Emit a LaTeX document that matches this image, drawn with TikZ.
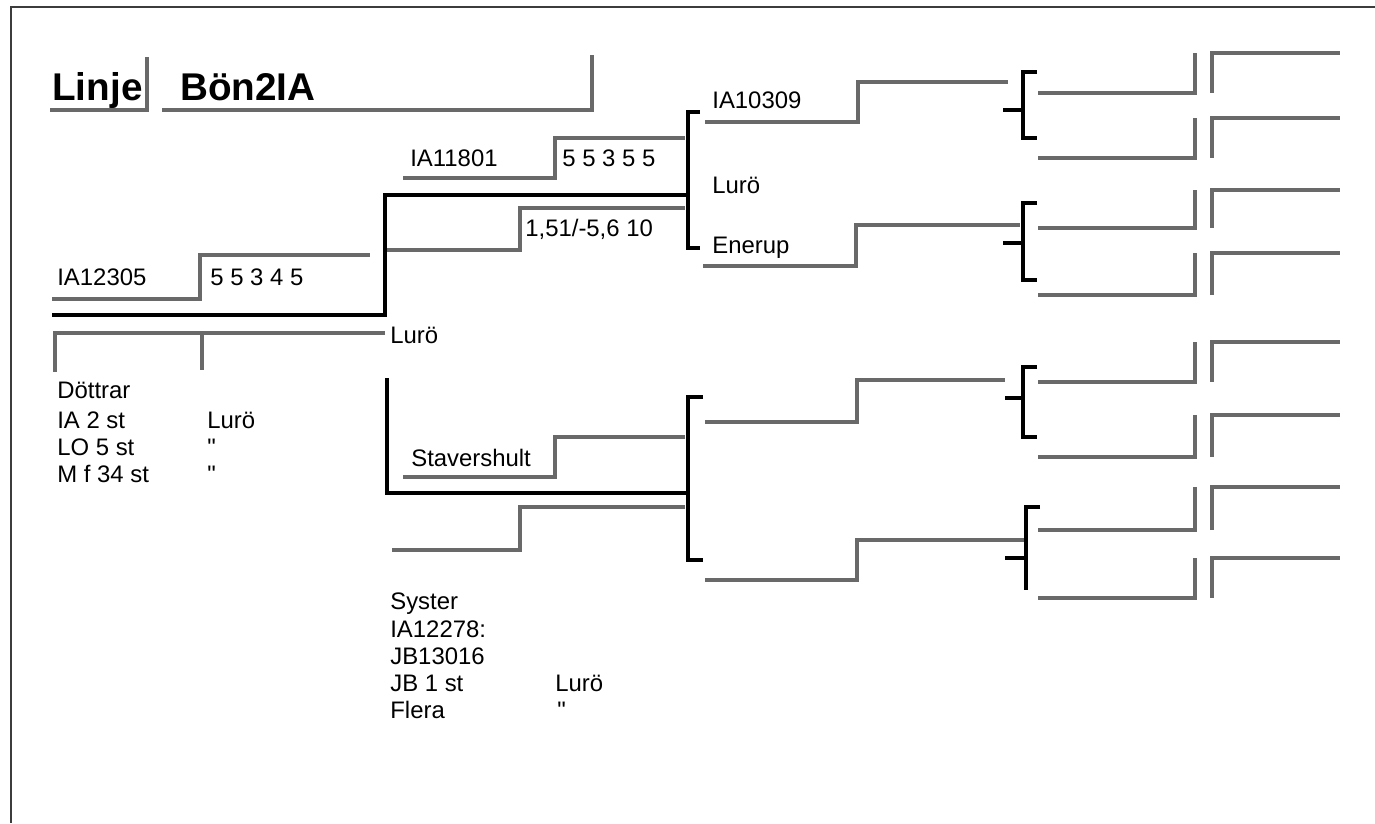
\documentclass[tikz,border=0pt]{standalone}
\usepackage{fontspec}
\setmainfont{Liberation Sans}
\usepackage{tikz}
\usetikzlibrary{positioning}
\definecolor{linegray}{RGB}{105,105,105}
\definecolor{framegray}{RGB}{60,60,60}
% step line: x start, x of step, x end, lower y, upper y
\newcommand{\stepline}[5]{\draw[gline] (#1,#4) -- (#2,#4) -- (#2,#5) -- (#3,#5);}

\begin{document}
\begin{tikzpicture}[x=0.02cm, y=-0.02cm,
  gline/.style={draw=linegray, line width=1.8pt},
  bline/.style={draw=black, line width=2.8pt},
  brk/.style={draw=black, line width=2.2pt},
  lbl/.style={anchor=base west, inner sep=0pt, font=\fontsize{13.6}{16}\selectfont},
  ttl/.style={anchor=base west, inner sep=0pt, font=\fontsize{22}{26}\selectfont\bfseries}
]
\useasboundingbox (0,0) rectangle (1375,823);
\draw[framegray, line width=1.1pt] (1375,7) -- (11,7) -- (11,823);

% title
\node[ttl] (linje) at (52,100) {Linje};
\node[ttl] (line) at (180,100) {Bön2IA};
\draw[gline] (50,110) -- (147,110) -- (147,57);
\draw[gline] (162,110) -- (592,110) -- (592,55);

% proband
\node[lbl] (ia12305) at (57,285) {IA12305};
\node[lbl] (idx0) at (210,285) {5 5 3 4 5};
\node[lbl] (luro0) at (390,343) {Lurö};
\stepline{52}{200}{370}{299}{255}
\draw[bline] (52,315) -- (385,315) -- (385,195) -- (688,195);
\draw[gline] (55,372) -- (55,333) -- (385,333);
\draw[gline] (202,333) -- (202,370);
\draw[bline] (387,378) -- (387,493) -- (688,493);

% offspring
\node[lbl] (dottrar) at (57,398) {Döttrar};
\node[lbl] (ia2) at (57,428) {IA 2 st};
\node[lbl] (lo5) at (57,455) {LO 5 st};
\node[lbl] (mf34) at (57,482) {M f 34 st};
\node[lbl] (luro1) at (207,428) {Lurö};
\node[lbl] (ditto1) at (207,455) {\textquotedbl};
\node[lbl] (ditto2) at (207,482) {\textquotedbl};

% sister
\node[lbl] (syster) at (390,609) {Syster};
\node[lbl] (ia12278) at (390,637) {IA12278:};
\node[lbl] (jb13016) at (390,664) {JB13016};
\node[lbl] (jb1) at (390,691) {JB 1 st};
\node[lbl] (flera) at (390,718) {Flera};
\node[lbl] (luro2) at (555,691) {Lurö};
\node[lbl] (ditto3) at (557,718) {\textquotedbl};

% parents
\node[lbl] (ia11801) at (410,166) {IA11801};
\node[lbl] (idx1) at (562,166) {5 5 3 5 5};
\node[lbl] (idx2) at (525,236) {1,51/-5,6 10};
\node[lbl] (stavershult) at (411,466) {Stavershult};
\stepline{403}{555}{685}{178}{138}
\stepline{387}{520}{685}{250}{208}
\stepline{403}{555}{685}{477}{437}
\stepline{392}{520}{685}{550}{507}
\draw[brk] (700,112) -- (688,112) -- (688,248) -- (700,248);
\draw[brk] (703,397) -- (688,397) -- (688,560) -- (703,560);

% grandparents
\node[lbl] (ia10309) at (712,108) {IA10309};
\node[lbl] (luro3) at (712,193) {Lurö};
\node[lbl] (enerup) at (712,253) {Enerup};
\stepline{705}{858}{1008}{122}{82}
\stepline{703}{856}{1020}{266}{225}
\stepline{705}{857}{1005}{422}{380}
\stepline{705}{857}{1026}{580}{540}
\draw[brk] (1037,72) -- (1023,72) -- (1023,138) -- (1037,138);
\draw[brk] (1003,110) -- (1023,110);
\draw[brk] (1037,203) -- (1023,203) -- (1023,280) -- (1037,280);
\draw[brk] (1003,243) -- (1023,243);
\draw[brk] (1037,367) -- (1023,367) -- (1023,437) -- (1037,437);
\draw[brk] (1005,398) -- (1023,398);
\draw[brk] (1040,507) -- (1026,507) -- (1026,590);
\draw[brk] (1005,558) -- (1026,558);

% great-grandparents
\foreach \t/\b in {53/93, 118/158, 190/228, 253/295, 342/382, 415/457, 487/530, 558/598}{
  \draw[gline] (1038,\b) -- (1195,\b) -- (1195,\t);
  \draw[gline] (1212,\b) -- (1212,\t) -- (1340,\t);
}
\end{tikzpicture}
\end{document}
